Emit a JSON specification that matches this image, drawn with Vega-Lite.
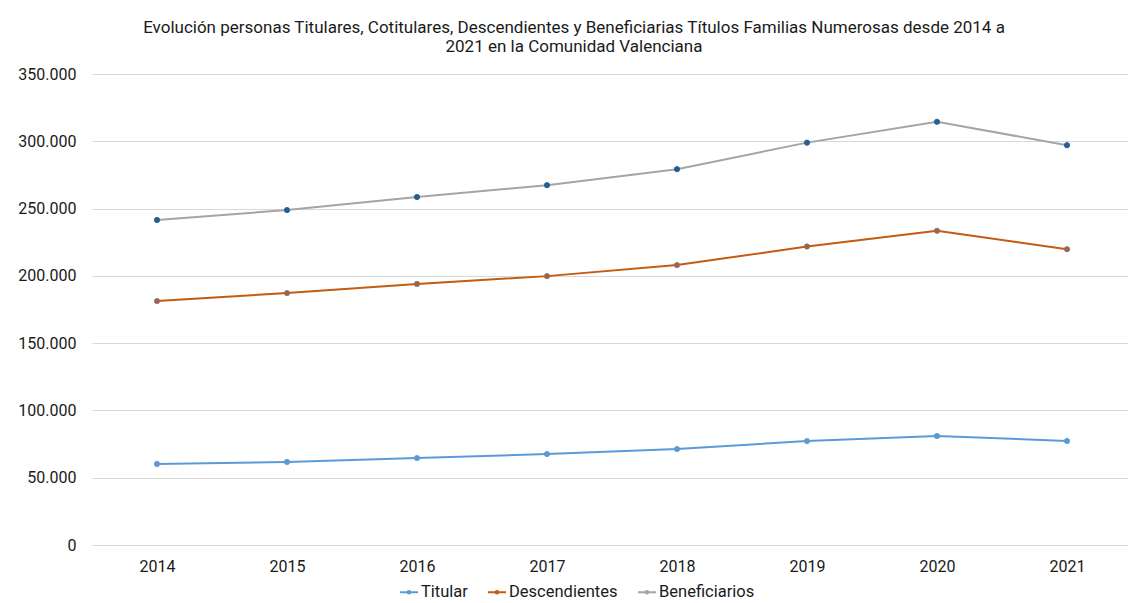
{
  "$schema": "https://vega.github.io/schema/vega-lite/v6.json",
  "width": 1040,
  "height": 471,
  "autosize": {"type": "none"},
  "padding": {"left": 92, "top": 74, "right": 0, "bottom": 58},
  "background": "white",
  "config": {
    "font": "Roboto",
    "view": {"stroke": null},
    "locale": {"number": {"decimal": ",", "thousands": ".", "grouping": [3], "currency": ["", " €"]}}
  },
  "title": {
    "text": ["Evolución personas Titulares, Cotitulares, Descendientes y Beneficiarias Títulos Familias Numerosas desde 2014 a", "2021 en la Comunidad Valenciana"],
    "font": "Roboto",
    "fontSize": 17,
    "fontWeight": "normal",
    "color": "#1a1a1a",
    "anchor": "middle",
    "dx": -38,
    "offset": 10,
    "lineHeight": 19
  },
  "data": {
    "values": [
      {"year": "2014", "serie": "Titular", "valor": 60200},
      {"year": "2015", "serie": "Titular", "valor": 61700},
      {"year": "2016", "serie": "Titular", "valor": 64600},
      {"year": "2017", "serie": "Titular", "valor": 67600},
      {"year": "2018", "serie": "Titular", "valor": 71300},
      {"year": "2019", "serie": "Titular", "valor": 77200},
      {"year": "2020", "serie": "Titular", "valor": 81000},
      {"year": "2021", "serie": "Titular", "valor": 77300},
      {"year": "2014", "serie": "Descendientes", "valor": 181300},
      {"year": "2015", "serie": "Descendientes", "valor": 187200},
      {"year": "2016", "serie": "Descendientes", "valor": 194000},
      {"year": "2017", "serie": "Descendientes", "valor": 199800},
      {"year": "2018", "serie": "Descendientes", "valor": 208000},
      {"year": "2019", "serie": "Descendientes", "valor": 221800},
      {"year": "2020", "serie": "Descendientes", "valor": 233500},
      {"year": "2021", "serie": "Descendientes", "valor": 219800},
      {"year": "2014", "serie": "Beneficiarios", "valor": 241500},
      {"year": "2015", "serie": "Beneficiarios", "valor": 248900},
      {"year": "2016", "serie": "Beneficiarios", "valor": 258600},
      {"year": "2017", "serie": "Beneficiarios", "valor": 267400},
      {"year": "2018", "serie": "Beneficiarios", "valor": 279300},
      {"year": "2019", "serie": "Beneficiarios", "valor": 299000},
      {"year": "2020", "serie": "Beneficiarios", "valor": 314500},
      {"year": "2021", "serie": "Beneficiarios", "valor": 297100}
    ]
  },
  "encoding": {
    "x": {
      "field": "year",
      "type": "ordinal",
      "scale": {"type": "point", "padding": 0.5},
      "axis": {
        "title": null,
        "domain": false,
        "ticks": false,
        "labelAngle": 0,
        "labelFont": "Roboto",
        "labelFontSize": 16,
        "labelColor": "#1a1a1a",
        "labelPadding": 13
      }
    },
    "y": {
      "field": "valor",
      "type": "quantitative",
      "scale": {"domain": [0, 350000]},
      "axis": {
        "title": null,
        "domain": false,
        "ticks": false,
        "values": [0, 50000, 100000, 150000, 200000, 250000, 300000, 350000],
        "format": ",d",
        "labelFont": "Roboto",
        "labelFontSize": 16,
        "labelColor": "#1a1a1a",
        "labelPadding": 16,
        "gridColor": "#D9D9D9",
        "gridWidth": 1
      }
    }
  },
  "layer": [
    {
      "mark": {"type": "line", "strokeWidth": 2},
      "encoding": {
        "color": {
          "field": "serie",
          "type": "nominal",
          "sort": ["Titular", "Descendientes", "Beneficiarios"],
          "scale": {"domain": ["Titular", "Descendientes", "Beneficiarios"], "range": ["#5B9BD5", "#C55A11", "#A5A5A5"]},
          "legend": {
            "title": null,
            "orient": "none",
            "direction": "horizontal",
            "legendX": 307,
            "legendY": 508,
            "labelFont": "Roboto",
            "labelFontSize": 16.5,
            "labelColor": "#1a1a1a",
            "symbolType": "M-1,0L1,0M-0.15,0A0.15,0.15 0 1,1 0.15,0A0.15,0.15 0 1,1 -0.15,0",
            "symbolSize": 324,
            "symbolStrokeWidth": 2,
            "labelOffset": 2,
            "columnPadding": 16
          }
        }
      }
    },
    {
      "mark": {"type": "point", "filled": true, "size": 28, "strokeWidth": 0.8, "opacity": 1},
      "encoding": {
        "fill": {
          "field": "serie",
          "type": "nominal",
          "scale": {"domain": ["Titular", "Descendientes", "Beneficiarios"], "range": ["#5B9BD5", "#C55A11", "#255E91"]},
          "legend": null
        },
        "stroke": {
          "field": "serie",
          "type": "nominal",
          "scale": {"domain": ["Titular", "Descendientes", "Beneficiarios"], "range": ["#5B9BD5", "#5B7FC0", "#255E91"]},
          "legend": null
        }
      }
    }
  ]
}
